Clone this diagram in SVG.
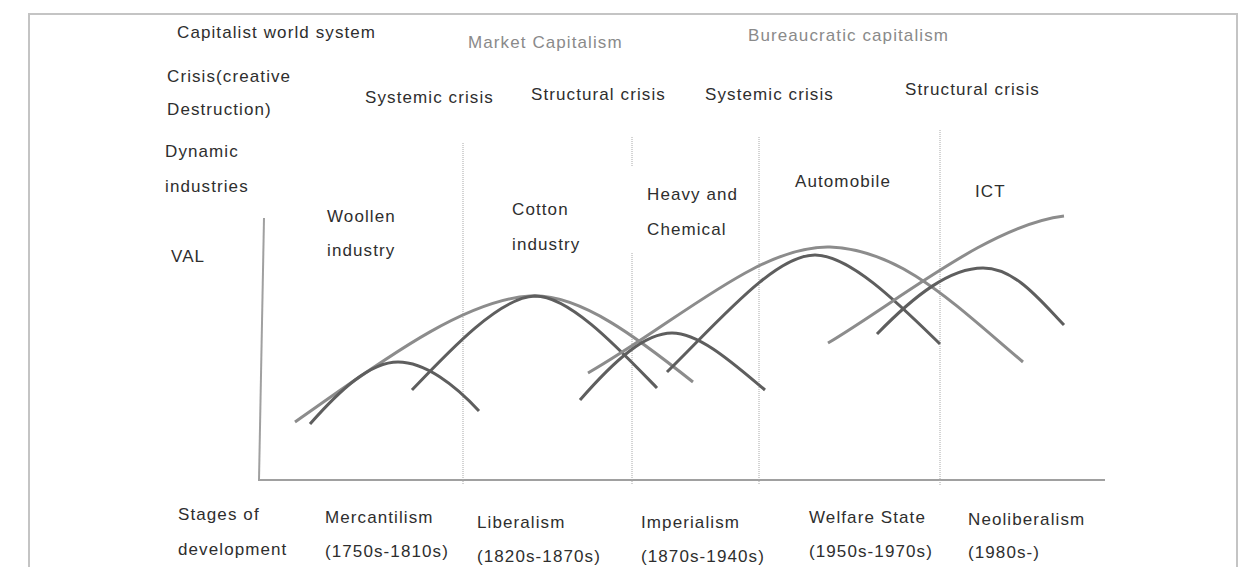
<svg xmlns="http://www.w3.org/2000/svg" width="1249" height="567" viewBox="0 0 1249 567">
<style>
text{font-family:"Liberation Sans",Arial,sans-serif;font-size:17px;fill:#2e2e2e;letter-spacing:1.1px}
text.g{fill:#8a8a8a}
.frame{fill:none;stroke:#c4c4c4;stroke-width:2}
.axis{fill:none;stroke:#a0a0a0;stroke-width:2}
.div{fill:none;stroke:#a8a8a8;stroke-width:1;stroke-dasharray:1 1}
.lt{fill:none;stroke:#8c8c8c;stroke-width:3}
.dk{fill:none;stroke:#5e5e5e;stroke-width:3}
</style>
<rect x="0" y="0" width="1249" height="567" fill="#ffffff"/>
<path class="frame" d="M29,580 V14 H1237 V580"/>
<g id="axes">
<path class="axis" d="M264,218 L259,480"/>
<path class="axis" d="M258,480 H1105"/>
</g>
<g id="dividers">
<path class="div" d="M463,143 V485"/>
<path class="div" d="M632,137 V167 M632,253 V485"/>
<path class="div" d="M759,137 V485"/>
<path class="div" d="M940,130 V485"/>
</g>
<g id="labels">
<text x="177" y="38">Capitalist world system</text>
<text class="g" x="468" y="48">Market Capitalism</text>
<text class="g" x="748" y="41">Bureaucratic capitalism</text>
<text x="167" y="82">Crisis(creative</text>
<text x="167" y="115">Destruction)</text>
<text x="365" y="103">Systemic crisis</text>
<text x="531" y="100">Structural crisis</text>
<text x="705" y="100">Systemic crisis</text>
<text x="905" y="95">Structural crisis</text>
<text x="165" y="157">Dynamic</text>
<text x="165" y="192">industries</text>
<text x="171" y="262">VAL</text>
</g>
<g id="industries">
<g id="woollen"><text x="327" y="222">Woollen</text><text x="327" y="256">industry</text></g>
<g id="cotton"><text x="512" y="215">Cotton</text><text x="512" y="250">industry</text></g>
<g id="heavy"><text x="647" y="200">Heavy and</text><text x="647" y="235">Chemical</text></g>
<g id="automobile"><text x="795" y="187">Automobile</text></g>
<g id="ict"><text x="975" y="197">ICT</text></g>
</g>
<g id="connectors">
<path class="lt" d="M295,422 C370,370 460,300 530,296 C580,293 640,340 693,382"/>
<path class="dk" d="M310,424 C340,390 370,362 398,362 C425,362 455,385 479,411"/>
<path class="dk" d="M412,390 C450,350 500,297 535,296 C570,296 620,350 657,388"/>
<path class="lt" d="M588,373 C680,320 760,245 830,247 C900,250 950,300 1023,362"/>
<path class="dk" d="M580,400 C615,360 645,333 672,333 C700,333 735,365 765,390"/>
<path class="dk" d="M667,372 C720,320 775,255 815,255 C850,255 900,305 940,344"/>
<path class="lt" d="M828,343 C900,300 990,225 1064,216"/>
<path class="dk" d="M877,334 C915,295 950,268 983,268 C1015,268 1040,300 1064,325"/>
</g>
<g id="stages">
<text x="178" y="520">Stages of</text>
<text x="178" y="555">development</text>
<text x="325" y="523">Mercantilism</text>
<text x="325" y="557">(1750s-1810s)</text>
<text x="477" y="528">Liberalism</text>
<text x="477" y="562">(1820s-1870s)</text>
<text x="641" y="528">Imperialism</text>
<text x="641" y="562">(1870s-1940s)</text>
<text x="809" y="523">Welfare State</text>
<text x="809" y="557">(1950s-1970s)</text>
<text x="968" y="525">Neoliberalism</text>
<text x="968" y="558">(1980s-)</text>
</g>
</svg>
